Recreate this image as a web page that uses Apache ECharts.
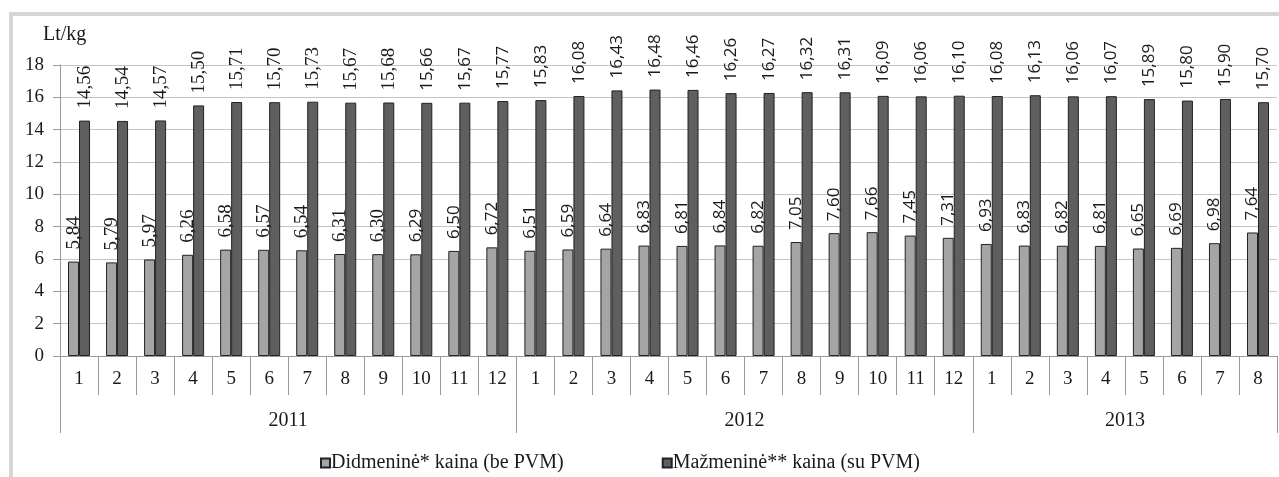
<!DOCTYPE html>
<html>
<head>
<meta charset="utf-8">
<script src="https://cdn.jsdelivr.net/npm/echarts@6/dist/echarts.min.js"></script>
<style>
  html, body { margin: 0; padding: 0; background: #ffffff; }
  #frame { position: absolute; left: 9px; top: 12px; width: 1300px; height: 500px;
           border-left: 4px solid #d6d6d6; border-top: 4px solid #d6d6d6; }
  #chart { position: absolute; left: 0; top: 0; width: 1279px; height: 477px; }
</style>
</head>
<body>
<div id="frame"></div>
<div id="chart"></div>
<script>
// ---- data ----
const years = ['2011', '2012', '2013'];
const monthsPerYear = [12, 12, 8];
const months = ['1','2','3','4','5','6','7','8','9','10','11','12',
                '1','2','3','4','5','6','7','8','9','10','11','12',
                '1','2','3','4','5','6','7','8'];
const wholesale = [5.84,5.79,5.97,6.26,6.58,6.57,6.54,6.31,6.30,6.29,6.50,6.72,
                   6.51,6.59,6.64,6.83,6.81,6.84,6.82,7.05,7.60,7.66,7.45,7.31,
                   6.93,6.83,6.82,6.81,6.65,6.69,6.98,7.64];
const retail = [14.56,14.54,14.57,15.50,15.71,15.70,15.73,15.67,15.68,15.66,15.67,15.77,
                15.83,16.08,16.43,16.48,16.46,16.26,16.27,16.32,16.31,16.09,16.06,16.10,
                16.08,16.13,16.06,16.07,15.89,15.80,15.90,15.70];
const seriesNames = ['Didmeninė* kaina (be PVM)', 'Mažmeninė** kaina (su PVM)'];
const yTicks = [0, 2, 4, 6, 8, 10, 12, 14, 16, 18];

// ---- derived ----
const serif = '"Liberation Serif", "Times New Roman", serif';
const sans = '"Open Sans", "Liberation Sans", sans-serif';
const boundaries = [0];
const yearCenters = [];
monthsPerYear.forEach((n) => {
  const start = boundaries[boundaries.length - 1];
  yearCenters.push(start + n / 2);
  boundaries.push(start + n);
});
const total = boundaries[boundaries.length - 1];

function fmt(v) { return v.toFixed(2).replace('.', ','); }
function toItems(arr) {
  return arr.map((v, i) => ({
    value: v,
    label: i < 9 ? { fontFamily: serif, fontSize: 19 } : { fontFamily: sans, fontSize: 17 }
  }));
}

const chart = echarts.init(document.getElementById('chart'), null, { renderer: 'canvas' });
const barBase = {
  type: 'bar',
  barWidth: 11,
  barGap: '0%',
  xAxisIndex: 0,
  label: {
    show: true,
    position: 'top',
    rotate: 90,
    align: 'left',
    verticalAlign: 'middle',
    distance: 12,
    color: '#1a1a1a',
    formatter: p => fmt(p.value)
  }
};

chart.setOption({
  backgroundColor: 'transparent',
  animation: false,
  textStyle: { fontFamily: serif },
  grid: { left: 60, right: 2, top: 65, bottom: 121, containLabel: false },
  legend: {
    data: seriesNames,
    left: 315,
    top: 448,
    itemGap: 98,
    itemWidth: 9,
    itemHeight: 9,
    icon: 'rect',
    textStyle: { fontFamily: serif, fontSize: 20, color: '#1a1a1a', padding: [0, 0, 0, -4] }
  },
  xAxis: [
    {
      type: 'category',
      data: months,
      position: 'bottom',
      axisLine: { show: true, lineStyle: { color: '#9a9a9a', width: 1 } },
      axisTick: { show: true, alignWithLabel: false, interval: 0, length: 39,
                  lineStyle: { color: '#9a9a9a' } },
      axisLabel: { interval: 0, margin: 14, fontFamily: serif, fontSize: 19, color: '#1a1a1a' },
      splitLine: { show: false }
    },
    {
      type: 'value',
      min: 0,
      max: total,
      position: 'bottom',
      axisLine: { show: false },
      axisTick: { show: true, customValues: boundaries, length: 77,
                  lineStyle: { color: '#9a9a9a' } },
      axisLabel: { show: true, customValues: yearCenters, margin: 55,
                   fontFamily: serif, fontSize: 20, color: '#1a1a1a',
                   formatter: v => years[yearCenters.indexOf(v)] },
      splitLine: { show: false }
    }
  ],
  yAxis: {
    type: 'value',
    min: yTicks[0],
    max: yTicks[yTicks.length - 1],
    interval: yTicks[1] - yTicks[0],
    name: 'Lt/kg',
    nameLocation: 'end',
    nameGap: 20,
    nameTextStyle: { fontFamily: serif, fontSize: 20, color: '#1a1a1a', align: 'left', padding: [0, 0, 0, -17] },
    axisLine: { show: true, lineStyle: { color: '#9a9a9a' } },
    axisTick: { show: true, length: 7, lineStyle: { color: '#9a9a9a' } },
    axisLabel: { fontFamily: serif, fontSize: 19, color: '#1a1a1a', margin: 16 },
    splitLine: { show: true, lineStyle: { color: '#c4c4c4', width: 1 } }
  },
  series: [
    Object.assign({}, barBase, {
      name: seriesNames[0],
      data: toItems(wholesale),
      itemStyle: { color: '#a5a5a7', borderColor: '#222222', borderWidth: 1 }
    }),
    Object.assign({}, barBase, {
      name: seriesNames[1],
      data: toItems(retail),
      itemStyle: { color: '#5f5f62', borderColor: '#222222', borderWidth: 1 }
    })
  ]
});
</script>
</body>
</html>
